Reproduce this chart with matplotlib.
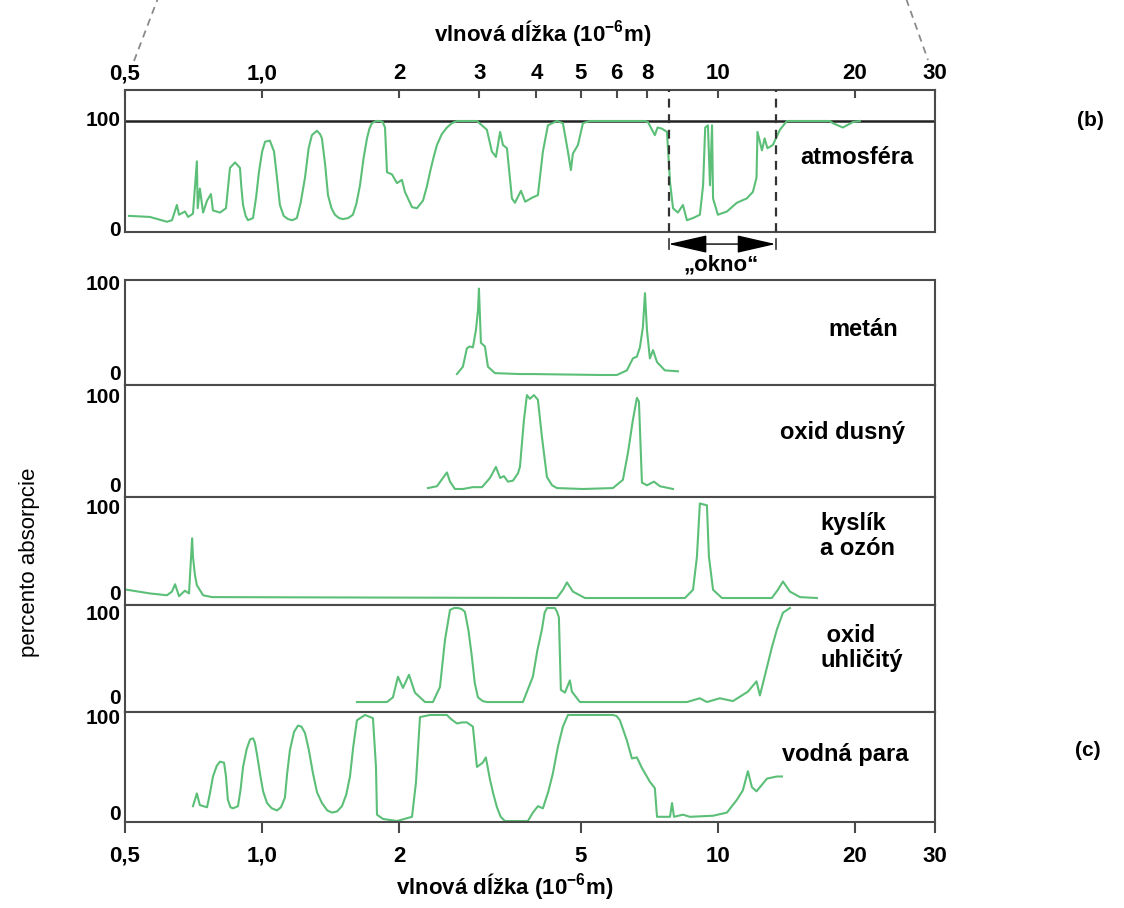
import matplotlib
matplotlib.use("Agg")
import matplotlib.pyplot as plt
from matplotlib.ticker import NullLocator
from matplotlib.lines import Line2D
from matplotlib.transforms import blended_transform_factory

plt.rcParams['font.family'] = ['Liberation Sans', 'DejaVu Sans']
plt.rcParams['mathtext.fontset'] = 'custom'
plt.rcParams['mathtext.rm'] = 'Liberation Sans:bold'
plt.rcParams['mathtext.it'] = 'Liberation Sans:bold'
plt.rcParams['mathtext.bf'] = 'Liberation Sans:bold'

# ---- data: vlnova dlzka (um) a percento absorpcie ----
atm_wl = [0.51, 0.567, 0.618, 0.634, 0.650, 0.657, 0.677, 0.688, 0.705, 0.719, 0.722, 0.730,
          0.742, 0.757, 0.772, 0.780, 0.808, 0.833, 0.842, 0.850, 0.872, 0.894, 0.900, 0.908,
          0.920, 0.931, 0.955, 0.970, 0.984, 1.000, 1.015, 1.040, 1.062, 1.078, 1.094, 1.115,
          1.140, 1.165, 1.192, 1.215, 1.242, 1.265, 1.286, 1.319, 1.340, 1.353, 1.375, 1.395,
          1.420, 1.445, 1.475, 1.504, 1.545, 1.582, 1.610, 1.640, 1.670, 1.699, 1.720, 1.742,
          1.780, 1.814, 1.840, 1.861, 1.880, 1.928, 1.977, 2.027, 2.058, 2.133, 2.187, 2.255,
          2.300, 2.336, 2.380, 2.420, 2.480, 2.545, 2.610, 2.677, 2.962, 3.114, 3.194, 3.260,
          3.33, 3.378, 3.447, 3.535, 3.589, 3.700, 3.78, 3.930, 4.031, 4.134, 4.240, 4.437,
          4.574, 4.691, 4.763, 4.81, 4.935, 5.061, 5.243, 6.925, 7.03, 7.28, 7.38, 7.54, 7.74,
          7.86, 7.98, 8.18, 8.39, 8.56, 8.83, 9.14, 9.29, 9.39, 9.52, 9.62, 9.72, 9.77, 10.01,
          10.48, 11.02, 11.59, 11.95, 12.17, 12.23, 12.51, 12.68, 12.86, 13.22, 13.70, 14.19,
          17.64, 17.9, 18.83, 19.81, 20.52]
atm_ab = [13, 12, 7.6, 9, 23, 14, 17, 12, 15, 63, 20, 38,
          16, 27, 33, 18, 16, 20, 40, 57, 62, 57, 40, 23,
          13, 9, 11, 30, 53, 72, 81, 82, 72, 48, 23, 13,
          10, 9, 11, 25, 48, 75, 87, 91, 88, 84, 60, 32,
          20, 14, 11, 10, 11, 14, 24, 41, 66, 84, 93, 98,
          100, 100, 99, 94, 53, 51, 43, 46, 35, 21, 20, 27,
          40, 53, 67, 78, 88, 94, 98, 100, 100, 92, 72, 67,
          90, 78, 75, 29, 25, 36, 26, 30, 32, 72, 96, 100,
          98, 72, 55, 70, 78, 98, 100, 100, 99, 87, 94, 93, 90,
          44, 20, 16, 23, 9, 11, 14, 41, 94, 96, 41, 96, 29, 14,
          17, 25, 29, 35, 48, 90, 73, 84, 75, 78, 92, 100,
          100, 98, 94, 99, 100]

metan_wl = [2.677, 2.759, 2.815, 2.858, 2.902, 2.947, 2.977, 2.992, 3.022, 3.084, 3.131, 3.244,
            3.681, 3.930, 5.52, 6.009, 6.320, 6.515, 6.648, 6.750, 6.853, 6.925, 6.995, 7.10,
            7.213, 7.36, 7.657, 8.18]
metan_ab = [1, 9, 29, 31, 30, 49, 70, 94, 35, 31, 9, 2,
            1, 1, 0, 0, 5, 18, 20, 30, 52, 89, 49, 18,
            27, 14, 5, 4]

n2o_wl = [2.312, 2.420, 2.494, 2.545, 2.585, 2.650, 2.759, 2.902, 3.038, 3.164, 3.260, 3.33,
          3.395, 3.464, 3.553, 3.644, 3.681, 3.756, 3.813, 3.87, 3.95, 4.031, 4.113, 4.219,
          4.330, 4.437, 5.061, 5.889, 6.194, 6.353, 6.515, 6.648, 6.717, 6.820, 6.995, 7.245,
          7.468, 7.98]
n2o_ab = [1, 3, 12, 18, 8, 0, 0, 2, 2, 12, 24, 12,
          14, 8, 9, 17, 24, 75, 102, 98, 102, 97, 57, 13,
          4, 1, 0, 1, 10, 39, 75, 99, 95, 7, 4, 8,
          3, 0]

o2o3_wl = [0.505, 0.567, 0.618, 0.634, 0.644, 0.657, 0.677, 0.691, 0.702, 0.705, 0.712, 0.719,
           0.742, 0.776, 4.437, 4.574, 4.668, 4.812, 5.112, 8.476, 8.83, 9.005, 9.14, 9.29,
           9.472, 9.568, 9.77, 10.22, 13.15, 13.56, 13.91, 14.41, 15.16, 16.51]
o2o3_ab = [9, 5, 3, 7, 15, 2, 8, 5, 65, 45, 25, 14,
           3, 1, 0, 9, 17, 7, 0, 0, 9, 45, 103, 102,
           101, 45, 9, 0, 0, 9, 18, 7, 1, 0]

co2_wl = [1.615, 1.880, 1.937, 1.987, 2.038, 2.101, 2.165, 2.278, 2.371, 2.457, 2.520, 2.585,
          2.640, 2.691, 2.740, 2.787, 2.840, 2.887, 2.930, 2.977, 3.050, 3.114, 3.681, 3.737,
          3.930, 4.020, 4.113, 4.170, 4.219, 4.392, 4.440, 4.482, 4.527, 4.621, 4.738, 4.787,
          4.984, 6.009, 8.56, 9.14, 9.47, 10.11, 10.80, 11.65, 12.17, 12.38, 12.83, 13.15,
          13.49, 13.91, 14.41]
co2_ab = [0, 0, 5, 27, 15, 29, 10, 0, 0, 16, 66, 98,
          100, 100, 99, 96, 75, 48, 20, 5, 1, 0, 0, 0,
          27, 55, 77, 95, 100, 100, 96, 90, 13, 10, 23, 11,
          0, 0, 0, 4, 0, 4, 1, 11, 22, 7, 37, 58,
          77, 95, 100]

h2o_wl = [0.705, 0.719, 0.730, 0.757, 0.768, 0.780, 0.795, 0.808, 0.825, 0.833, 0.841, 0.852,
          0.863, 0.885, 0.897, 0.908, 0.925, 0.941, 0.955, 0.964, 0.975, 0.989, 1.005, 1.025,
          1.050, 1.078, 1.100, 1.122, 1.135, 1.151, 1.175, 1.199, 1.220, 1.242, 1.265, 1.293,
          1.320, 1.353, 1.390, 1.423, 1.460, 1.497, 1.530, 1.559, 1.585, 1.615, 1.682, 1.751,
          1.778, 1.787, 1.842, 1.977, 2.133, 2.176, 2.221, 2.336, 2.545, 2.600, 2.677, 2.750,
          2.815, 2.902, 2.962, 3.050, 3.098, 3.164, 3.220, 3.277, 3.340, 3.412, 3.832, 3.930,
          4.031, 4.134, 4.250, 4.348, 4.460, 4.574, 4.691, 5.889, 6.000, 6.101, 6.320, 6.482,
          6.648, 6.820, 7.10, 7.28, 7.36, 7.86, 7.94, 8.02, 8.39, 8.69, 9.77, 10.48,
          11.02, 11.36, 11.65, 11.89, 12.17, 12.83, 13.49, 13.84]
h2o_ab = [14, 26, 15, 13, 26, 42, 52, 56, 55, 42, 20, 13,
          12, 14, 30, 51, 68, 77, 78, 74, 62, 45, 28, 17,
          12, 10, 13, 22, 45, 67, 84, 90, 89, 83, 68, 45,
          27, 17, 10, 8, 9, 14, 25, 42, 70, 95, 100, 97,
          51, 6, 2, 0, 4, 36, 98, 100, 100, 96, 92, 93,
          93, 89, 51, 55, 60, 39, 25, 13, 4, 0, 0, 8,
          14, 12, 28, 45, 70, 89, 100, 100, 99, 95, 76, 59,
          60, 50, 37, 31, 4, 4, 17, 4, 6, 4, 5, 8,
          20, 29, 47, 32, 28, 40, 42, 42]

okno = [7.8, 13.4]

horne_ticky = [0.5, 1, 2, 3, 4, 5, 6, 7, 10, 20, 30]
horne_popisky = ['0,5', '1,0', '2', '3', '4', '5', '6', '8', '10', '20', '30']
dolne_ticky = [0.5, 1, 2, 5, 10, 20, 30]
dolne_popisky = ['0,5', '1,0', '2', '5', '10', '20', '30']

# nazov, data, rozsah y, zarovnanie a poloha nazvu, poloha popiskov "100" a "0" (px)
panely = [
    ("metán", metan_wl, metan_ab, (-10.9, 103.3), 'center', 863, 330, 284, 374),
    ("oxid dusný", n2o_wl, n2o_ab, (-8.7, 113), 'center', 842, 433, 398, 487),
    ("kyslík\na ozón", o2o3_wl, o2o3_ab, (-7.6, 110), 'left', 820, 536, 508, 595),
    (" oxid\nuhličitý", co2_wl, co2_ab, (-10.6, 103.2), 'left', 820, 648, 615, 698),
    ("vodná para", h2o_wl, h2o_ab, (-0.9, 102.8), 'center', 845, 755, 719, 815),
]
hranice = [280, 385, 497, 605, 712, 822]

# ---- vzhlad ----
W, H = 1124, 908
fig = plt.figure(figsize=(W / 100, H / 100), dpi=100)
zelena = '#5cbf78'
ramik = '#4a4a4a'


def box(left, top, right, bottom):
    return [left / W, 1 - bottom / H, (right - left) / W, (bottom - top) / H]


def text_px(x, y, s, **kw):
    fig.text(x / W, 1 - y / H, s, **kw)


def priprav_os(ax, ylim):
    ax.set_xscale('log')
    ax.set_xlim(0.5, 30)
    ax.set_ylim(*ylim)
    ax.xaxis.set_minor_locator(NullLocator())
    ax.set_yticks([])
    for s in ax.spines.values():
        s.set_color(ramik)
        s.set_linewidth(1.5)


def popisky_y(y100, y0):
    text_px(121, y100, '100', fontsize=15, fontweight='bold', ha='right', va='center')
    text_px(121, y0, '0', fontsize=15, fontweight='bold', ha='right', va='center')


# horny panel (b) - atmosfera
ax_b = fig.add_axes(box(125, 90, 935, 232))
priprav_os(ax_b, (-1.8, 128.4))
ax_b.xaxis.tick_top()
ax_b.set_xticks(horne_ticky)
ax_b.set_xticklabels(horne_popisky, fontsize=16, fontweight='bold')
ax_b.tick_params(axis='x', direction='in', length=6, width=1.5, pad=4, color=ramik)
ax_b.axhline(100, color='#222222', lw=1.8, zorder=1)
ax_b.plot(atm_wl, atm_ab, color=zelena, lw=1.5, zorder=2)
for x in okno:
    ax_b.axvline(x, color='#333333', lw=1.6, ls=(0, (4, 3)), zorder=3)
popisky_y(121, 230)

tr = blended_transform_factory(ax_b.transData, ax_b.transAxes)
ax_b.annotate('', xy=(okno[0], -0.085), xytext=(okno[1], -0.085),
              xycoords=tr, textcoords=tr,
              arrowprops=dict(arrowstyle='<|-|>,head_length=1.75,head_width=0.4',
                              color='black', lw=1, shrinkA=0, shrinkB=0, mutation_scale=14))
for x in okno:
    ax_b.plot([x, x], [-0.05, -0.12], transform=tr, color='#333333', lw=1.2, clip_on=False)
text_px(857, 157, 'atmosféra', fontsize=17, fontweight='bold', ha='center', va='center')
text_px(721, 265, '„okno“', fontsize=16, fontweight='bold', ha='center', va='center')

# spodne panely (c)
for i, (nazov, wl, ab, ylim, zarovnanie, tx, ty, y100, y0) in enumerate(panely):
    ax = fig.add_axes(box(125, hranice[i], 935, hranice[i + 1]))
    priprav_os(ax, ylim)
    ax.plot(wl, ab, color=zelena, lw=1.5)
    ax.set_xticks(dolne_ticky)
    if i < len(panely) - 1:
        ax.tick_params(axis='x', length=0, labelbottom=False)
    else:
        ax.set_xticklabels(dolne_popisky, fontsize=16, fontweight='bold')
        ax.tick_params(axis='x', direction='out', length=8, width=1.5, pad=9, color=ramik)
    text_px(tx, ty, nazov, fontsize=17, fontweight='bold', ha=zarovnanie, va='center',
            linespacing=1.1)
    popisky_y(y100, y0)

# popisky osi a oznacenia
text_px(543, 33, r'vlnová dĺžka (10$^{-6}$m)', fontsize=16, fontweight='bold',
        ha='center', va='center')
text_px(505, 886, r'vlnová dĺžka (10$^{-6}$m)', fontsize=16, fontweight='bold',
        ha='center', va='center')
text_px(30, 562, 'percento absorpcie', fontsize=16, rotation=90, ha='center', va='center')
text_px(1090, 121, '(b)', fontsize=15, fontweight='bold', ha='center', va='center')
text_px(1088, 750, '(c)', fontsize=15, fontweight='bold', ha='center', va='center')

# prerusovane ciary naznacujuce vyrez
fig.add_artist(Line2D([134 / W, 159 / W], [1 - 61 / H, 1.005], color='#8a8a8a', lw=1.3,
                      ls=(0, (4, 3))))
fig.add_artist(Line2D([905 / W, 928 / W], [1.005, 1 - 60 / H], color='#8a8a8a', lw=1.3,
                      ls=(0, (4, 3))))

fig.savefig('out.png', dpi=100)
